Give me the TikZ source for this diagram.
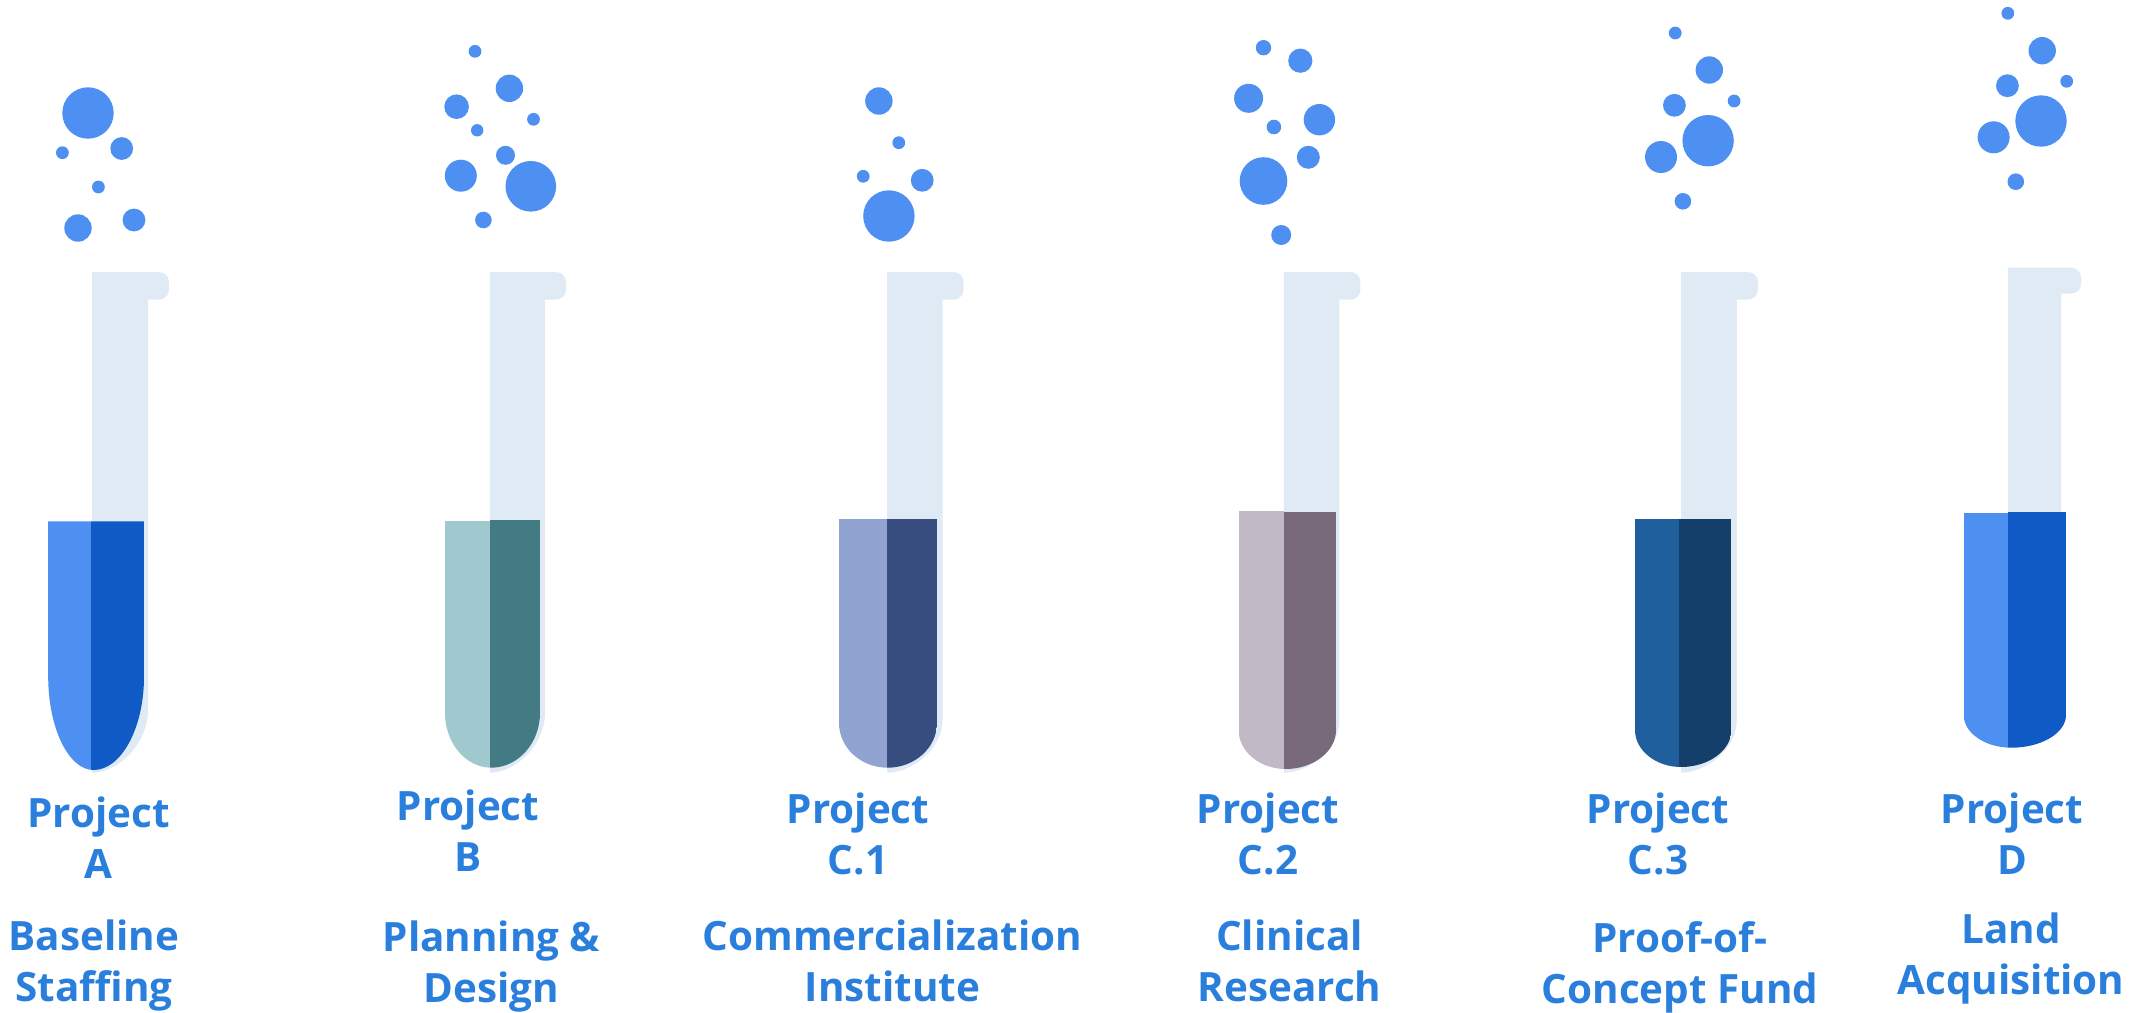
\documentclass[tikz,border=0pt]{standalone}
\usepackage{fontspec}
\setmainfont{Open Sans}
\definecolor{bubblecol}{HTML}{4D90F2}
\definecolor{glasscol}{HTML}{E0EAF5}
\definecolor{labelcol}{HTML}{2A7FDC}
\definecolor{aL}{HTML}{4D90F2}\definecolor{aR}{HTML}{0F5AC4}
\definecolor{bL}{HTML}{9FC8CF}\definecolor{bR}{HTML}{437B85}
\definecolor{cL}{HTML}{91A3D0}\definecolor{cR}{HTML}{374D80}
\definecolor{dL}{HTML}{C1BAC6}\definecolor{dR}{HTML}{786A7B}
\definecolor{eL}{HTML}{1F5F9E}\definecolor{eR}{HTML}{153F6B}
\tikzset{
  bubble/.style={fill=bubblecol,draw=none},
  glass/.style={fill=glasscol,draw=none},
  tubelabel/.style={text=labelcol,font=\fontsize{20.2}{25.5}\selectfont\bfseries,align=center,anchor=base,inner sep=0pt}
}
% left, neck right, lip right, top, lip bottom, straight end, bottom
\newcommand{\glasstube}[7]{
  \fill[glass] (#1,#4) -- ({#3-10},#4) .. controls ({#3-4.5},#4) and (#3,{#4+4.5}) .. (#3,{#4+10})
    -- (#3,{#5-10}) .. controls (#3,{#5-4.5}) and ({#3-4.5},#5) .. ({#3-10},#5)
    -- (#2,#5) -- (#2,#6) .. controls (#2,{#6+0.55*(#7-#6)}) and ({#1+0.45*(#2-#1)},#7) .. (#1,#7) -- cycle;
}
% L, split, R, top left, top right, straight end, bottom, colL, colR
\newcommand{\liquidfill}[9]{
  \pgfmathsetmacro{\midx}{0.5*#2+0.25*(#1+#3)}
  \begin{scope}
    \clip (#1,{min(#4,#5)}) -- (#1,#6) .. controls (#1,{#6+0.55*(#7-#6)}) and ({\midx-0.55*(\midx-#1)},#7) .. (\midx,#7)
      .. controls ({\midx+0.55*(#3-\midx)},#7) and (#3,{#6+0.55*(#7-#6)}) .. (#3,#6) -- (#3,{min(#4,#5)}) -- cycle;
    \fill[#8] (#1,#4) rectangle (#2,{#7+2});
    \fill[#9] (#2,#5) rectangle (#3,{#7+2});
  \end{scope}
}
\newcommand{\bub}[3]{\fill[bubble] (#1,#2) circle[radius=#3];}
\begin{document}
\begin{tikzpicture}[x=0.5pt,y=-0.5pt]
\useasboundingbox (0,0) rectangle (2147,1012);
% glass
\glasstube{92.2}{148}{169}{272}{299.7}{710}{772.7}
\glasstube{490}{545}{566}{272}{299.7}{713}{772.7}
\glasstube{887}{942.5}{963.5}{272}{299.7}{720}{772.7}
\glasstube{1283.8}{1339.3}{1360.4}{272}{299.7}{720}{772.7}
\glasstube{1681}{1736.8}{1757.9}{272}{299.7}{720}{772.7}
\glasstube{2008}{2061}{2081}{267.7}{293.7}{700}{745}
% liquid
\liquidfill{48.2}{91}{144}{521.3}{521.3}{676.7}{770}{aL}{aR}
\liquidfill{445}{490}{540}{520.7}{519.7}{713}{767.7}{bL}{bR}
\liquidfill{839}{887}{937}{519}{519}{723}{767.7}{cL}{cR}
\liquidfill{1238.6}{1284}{1336}{510.7}{511.5}{730}{769}{dL}{dR}
\liquidfill{1635}{1679}{1731.4}{519}{519}{730}{767}{eL}{eR}
\liquidfill{1963.7}{2007.8}{2066}{513}{512}{715}{747.7}{aL}{aR}
% bubbles A
\bub{88}{113}{25.7}\bub{121.7}{148.5}{11.4}\bub{62.4}{152.7}{6.4}
\bub{98.4}{187}{6.4}\bub{78}{228}{13.7}\bub{134}{220}{11.4}
% bubbles B
\bub{475}{51.3}{6.4}\bub{509.4}{88.3}{13.7}\bub{456.6}{106.7}{12.3}
\bub{533.5}{119.3}{6.4}\bub{477.2}{130.3}{6.2}\bub{505.5}{155.3}{9.5}
\bub{460.8}{175.7}{16}\bub{530.8}{186.3}{25.3}\bub{483.4}{220}{8.3}
% bubbles C.1
\bub{878.9}{101}{13.7}\bub{898.8}{142.7}{6.4}\bub{863.2}{176.3}{6.4}
\bub{922.2}{180.3}{11.4}\bub{888.9}{216}{25.7}
% bubbles C.2
\bub{1263.5}{47.7}{7.7}\bub{1300.3}{60.7}{12.1}\bub{1248.6}{98.3}{14.5}
\bub{1319.4}{119.7}{15.7}\bub{1273.9}{127}{7.3}\bub{1308.3}{157.3}{11.5}
\bub{1263.5}{181}{23.8}\bub{1281.2}{235}{10}
% bubbles C.3
\bub{1675.2}{33}{6.4}\bub{1709.3}{70}{13.7}\bub{1674.4}{105.3}{11.4}
\bub{1734.1}{101}{6.4}\bub{1708.1}{140.7}{25.7}\bub{1661}{157}{16}\bub{1682.9}{201.3}{8.3}
% bubbles D
\bub{2007.8}{13.3}{6.4}\bub{2042.2}{50.7}{13.7}\bub{2007.4}{85.7}{11.4}
\bub{2066.7}{81.3}{6.4}\bub{2041}{121}{25.7}\bub{1993.6}{137.3}{16}\bub{2015.8}{181.7}{8.3}
% labels
\node[tubelabel] (pa) at (98.5,878) {Project\\A};
\node[tubelabel] (pb) at (468,871) {Project\\B};
\node[tubelabel] (pc1) at (858,874) {Project\\C.1};
\node[tubelabel] (pc2) at (1268,874) {Project\\C.2};
\node[tubelabel] (pc3) at (1658,874) {Project\\C.3};
\node[tubelabel] (pd) at (2012,874) {Project\\D};
\node[tubelabel] (da) at (94,1001.7) {Baseline\\Staffing};
\node[tubelabel] (db) at (491.5,1002.7) {Planning \&\\Design};
\node[tubelabel] (dc1) at (892.5,1001.7) {Commercialization\\Institute};
\node[tubelabel] (dc2) at (1289.5,1001.7) {Clinical\\Research};
\node[tubelabel] (dc3) at (1680,1003) {Proof-of-\\Concept Fund};
\node[tubelabel] (dd) at (2011,994) {Land\\Acquisition};
\end{tikzpicture}
\end{document}
